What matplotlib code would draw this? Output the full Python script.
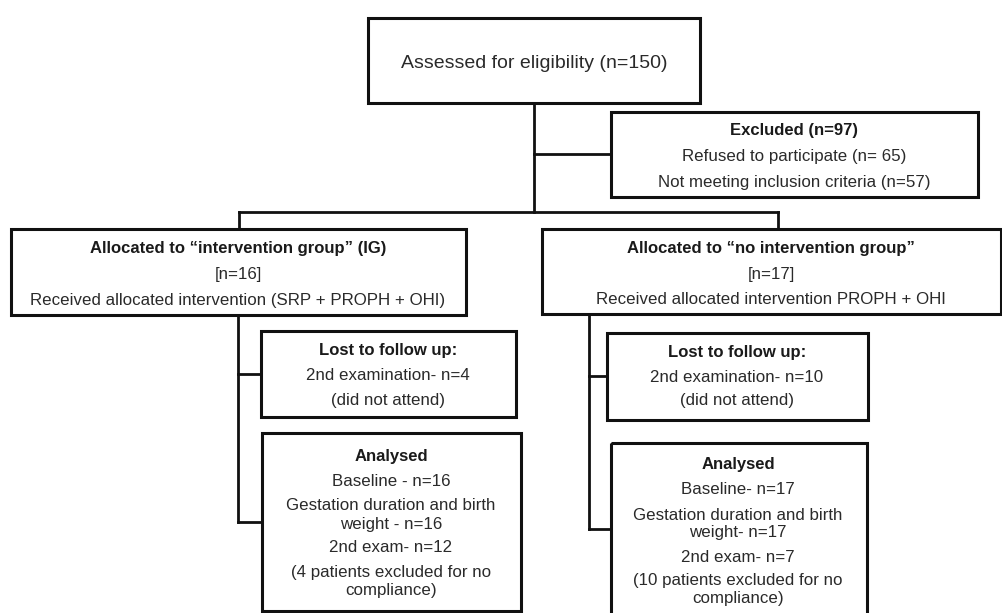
import matplotlib
matplotlib.use("Agg")
import matplotlib.pyplot as plt
from matplotlib.patches import Rectangle

# ---- data (texts) ----
assessed_text = ["Assessed for eligibility (n=150)"]
excluded_title = "Excluded (n=97)"
excluded_lines = ["Refused to participate (n= 65)", "Not meeting inclusion criteria (n=57)"]
ig_title = "Allocated to \u201cintervention group\u201d (IG)"
ig_lines = ["[n=16]", "Received allocated intervention (SRP + PROPH + OHI)"]
nig_title = "Allocated to \u201cno intervention group\u201d"
nig_lines = ["[n=17]", "Received allocated intervention PROPH + OHI"]
lost_title = "Lost to follow up:"
lost_ig_lines = ["2nd examination- n=4", "(did not attend)"]
lost_nig_lines = ["2nd examination- n=10", "(did not attend)"]
anal_title = "Analysed"
anal_ig_lines = ["Baseline - n=16", "Gestation duration and birth\nweight - n=16", "2nd exam- n=12",
                 "(4 patients excluded for no\ncompliance)"]
anal_nig_lines = ["Baseline- n=17", "Gestation duration and birth\nweight- n=17", "2nd exam- n=7",
                  "(10 patients excluded for no\ncompliance)"]

plt.rcParams['font.family'] = ['Liberation Sans', 'DejaVu Sans']

W, H = 1003, 613
fig = plt.figure(figsize=(W / 100, H / 100), dpi=100)
ax = fig.add_axes([0, 0, 1, 1])
ax.set_xlim(0, W)
ax.set_ylim(H, 0)
ax.axis('off')

LW = 2.0
FS = 12.2
FSB = 12.0
TXT_COL = '#2a2a2a'
DY = 2  # small vertical text offset


def box(x0, y0, x1, y1):
    ax.add_patch(Rectangle((x0, y0), x1 - x0, y1 - y0, fill=False, ec='#111111', lw=LW + 0.2,
                           joinstyle='miter'))


def line(xs, ys):
    ax.plot(xs, ys, color='#111111', lw=LW, solid_capstyle='projecting', solid_joinstyle='miter')


def txt(x, y, s, bold=False, fs=FS):
    ax.text(x, y + DY, s, ha='center', va='center', fontsize=fs,
            color='#1a1a1a' if bold else TXT_COL,
            fontweight='bold' if bold else 'normal', linespacing=1.25)


# connectors
line([534, 534], [103, 212])
line([534, 611], [154, 154])
line([239, 778], [212, 212])
line([239, 239], [212, 229])
line([778, 778], [212, 229])
line([238, 238], [315, 522])
line([238, 261], [374, 374])
line([238, 262], [522, 522])
line([589, 589], [314, 529])
line([589, 607], [376, 376])
line([589, 611], [529, 529])

# boxes
box(368, 18, 700, 103)
txt(534, 62, assessed_text[0], fs=14)

box(611, 112, 978, 197)
txt(794, 129, excluded_title, bold=True, fs=FSB)
for s, y in zip(excluded_lines, [154, 180]):
    txt(794, y, s)

box(11, 229, 466, 315)
txt(238, 247, ig_title, bold=True, fs=FSB)
for s, y in zip(ig_lines, [273, 298]):
    txt(238, y, s)

box(542, 229, 1001, 314)
txt(771, 247, nig_title, bold=True, fs=FSB)
for s, y in zip(nig_lines, [273, 298]):
    txt(771, y, s)

box(261, 331, 516, 417)
txt(388, 349, lost_title, bold=True, fs=FSB)
for s, y in zip(lost_ig_lines, [374, 398]):
    txt(388, y, s)

box(607, 333, 868, 420)
txt(737, 351, lost_title, bold=True, fs=FSB)
for s, y in zip(lost_nig_lines, [376, 399]):
    txt(737, y, s)

box(262, 433, 521, 611)
txt(391, 455, anal_title, bold=True, fs=FSB)
for s, y in zip(anal_ig_lines, [479, 513, 546, 580]):
    txt(391, y, s)

box(611, 443, 867, 618)
txt(738, 463, anal_title, bold=True, fs=FSB)
for s, y in zip(anal_nig_lines, [488, 522, 555, 588]):
    txt(738, y, s)

fig.savefig("out.png", dpi=100)
